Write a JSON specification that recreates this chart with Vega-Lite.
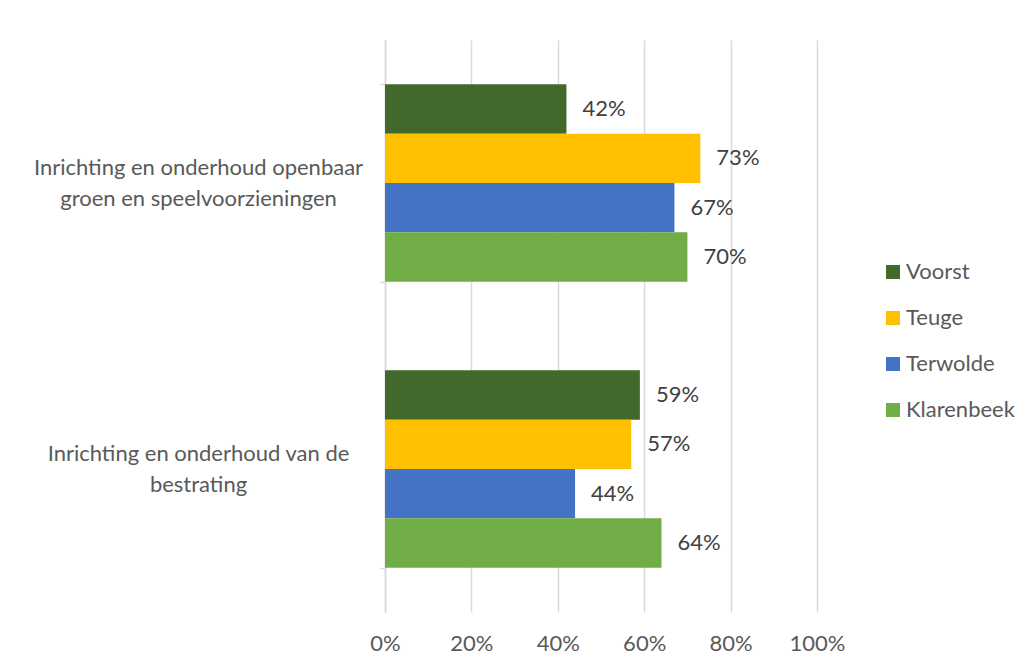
{
  "$schema": "https://vega.github.io/schema/vega-lite/v6.json",
  "width": 432,
  "height": 572,
  "autosize": {"type": "none"},
  "padding": {"left": 385, "top": 40, "right": 215, "bottom": 56},
  "background": "white",
  "title": {
    "text": "Beoordeling van openbare ruimte in uw buurt (% tevreden/ (zeer) goed)",
    "anchor": "start",
    "frame": "group",
    "dx": -255,
    "offset": 35,
    "fontSize": 17,
    "font": "Lato",
    "fontWeight": "bold",
    "color": "#000000"
  },
  "config": {
    "view": {"stroke": null},
    "font": "Lato"
  },
  "data": {
    "values": [
      {"item": "Inrichting en onderhoud openbaar groen en speelvoorzieningen", "area": "Voorst", "value": 0.42},
      {"item": "Inrichting en onderhoud openbaar groen en speelvoorzieningen", "area": "Teuge", "value": 0.73},
      {"item": "Inrichting en onderhoud openbaar groen en speelvoorzieningen", "area": "Terwolde", "value": 0.67},
      {"item": "Inrichting en onderhoud openbaar groen en speelvoorzieningen", "area": "Klarenbeek", "value": 0.70},
      {"item": "Inrichting en onderhoud van de bestrating", "area": "Voorst", "value": 0.59},
      {"item": "Inrichting en onderhoud van de bestrating", "area": "Teuge", "value": 0.57},
      {"item": "Inrichting en onderhoud van de bestrating", "area": "Terwolde", "value": 0.44},
      {"item": "Inrichting en onderhoud van de bestrating", "area": "Klarenbeek", "value": 0.64}
    ]
  },
  "encoding": {
    "y": {
      "field": "item",
      "type": "nominal",
      "sort": null,
      "scale": {"paddingInner": 0.31, "paddingOuter": 0.155},
      "axis": {
        "title": null,
        "labelExpr": "datum.value == 'Inrichting en onderhoud openbaar groen en speelvoorzieningen' ? ['Inrichting en onderhoud openbaar', 'groen en speelvoorzieningen'] : datum.value == 'Inrichting en onderhoud van de bestrating' ? ['Inrichting en onderhoud van de', 'bestrating'] : ''",
        "labelAlign": "center",
        "labelBaseline": "middle",
        "labelLineHeight": 31,
        "labelOffset": -16,
        "labelPadding": 182,
        "labelLimit": 400,
        "labelFontSize": 22,
        "labelColor": "#595959",
        "labelFont": "Lato",
        "tickBand": "extent",
        "tickSize": 5,
        "tickColor": "#d9d9d9",
        "tickWidth": 1.5,
        "domainColor": "#d9d9d9",
        "domainWidth": 1.5,
        "grid": false
      }
    },
    "yOffset": {
      "field": "area",
      "type": "nominal",
      "sort": ["Voorst", "Teuge", "Terwolde", "Klarenbeek"],
      "scale": {"paddingInner": 0, "paddingOuter": 0}
    },
    "x": {
      "field": "value",
      "type": "quantitative",
      "scale": {"domain": [0, 1]},
      "axis": {
        "title": null,
        "format": ".0%",
        "values": [0, 0.2, 0.4, 0.6, 0.8, 1],
        "domain": false,
        "ticks": false,
        "grid": true,
        "gridColor": "#d9d9d9",
        "gridWidth": 1.5,
        "labelFlush": false,
        "labelFontSize": 22,
        "labelColor": "#595959",
        "labelFont": "Lato",
        "labelPadding": 21
      }
    }
  },
  "layer": [
    {
      "mark": {"type": "bar"},
      "encoding": {
        "color": {
          "field": "area",
          "type": "nominal",
          "scale": {
            "domain": ["Voorst", "Teuge", "Terwolde", "Klarenbeek"],
            "range": ["#43682B", "#FFC000", "#4472C4", "#70AD47"]
          },
          "legend": {
            "title": null,
            "orient": "none",
            "legendX": 497,
            "legendY": 221,
            "padding": 0,
            "symbolType": "square",
            "symbolSize": 196,
            "symbolStrokeWidth": 0,
            "symbolOpacity": 1,
            "labelFontSize": 22,
            "labelColor": "#595959",
            "labelFont": "Lato",
            "labelOffset": 2,
            "rowPadding": 24
          }
        }
      }
    },
    {
      "mark": {"type": "text", "align": "left", "baseline": "middle", "dx": 16, "fontSize": 22, "color": "#404040", "font": "Lato"},
      "encoding": {
        "text": {"field": "value", "type": "quantitative", "format": ".0%"}
      }
    }
  ]
}
